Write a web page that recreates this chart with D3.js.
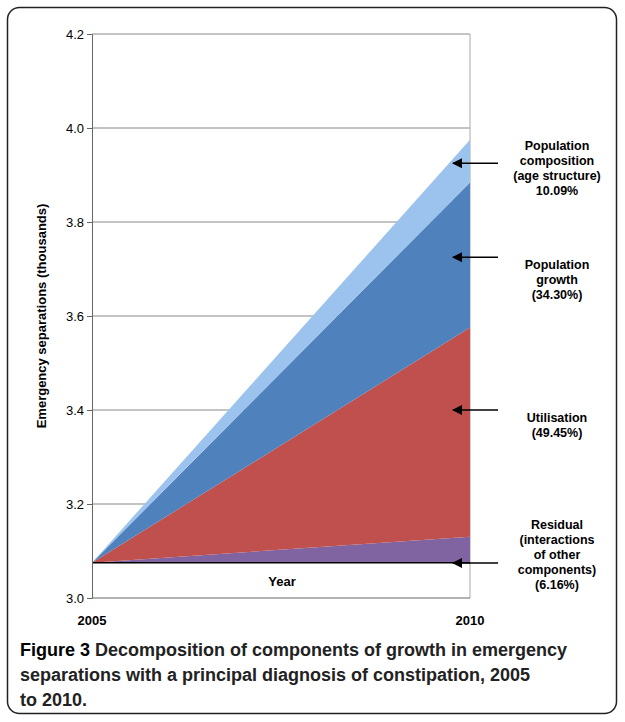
<!DOCTYPE html>
<html><head><meta charset="utf-8">
<script src="https://cdn.jsdelivr.net/npm/d3@7"></script>
<style>
body{margin:0;background:#fff;font-family:"Liberation Sans",Arial,sans-serif;}
</style></head>
<body><div id="chart"></div>
<script>
"use strict";

var years = [2005, 2010];
var base = 3.075;
var seriesNames = ["Residual", "Utilisation", "Population growth", "Population composition"];
var increments = [0.0554, 0.445, 0.3087, 0.0908]; // added by 2010
var colors = ["#8064A2", "#C0504D", "#4F81BD", "#9CC3EE"];
var yTicks = [3.0, 3.2, 3.4, 3.6, 3.8, 4.0, 4.2];
var labels = [
  ["Residual", "(interactions", "of other", "components)", "(6.16%)"],
  ["Utilisation", "(49.45%)"],
  ["Population", "growth", "(34.30%)"],
  ["Population", "composition", "(age structure)", "10.09%"]
];
var arrowY = [3.0745, 3.4, 3.725, 3.925];

var W = 625, H = 722;
var svg = d3.select("#chart").append("svg").attr("width", W).attr("height", H);

svg.append("rect").attr("x", 7.5).attr("y", 7.5).attr("width", 609).attr("height", 706)
  .attr("rx", 12).attr("fill", "#fff").attr("stroke", "#222").attr("stroke-width", 1.5);

var x = d3.scaleLinear().domain(years).range([92, 470]);
var y = d3.scaleLinear().domain([3.0, 4.2]).range([598, 34]);

// gridlines
svg.append("g").selectAll("line").data(yTicks.slice(1)).join("line")
  .attr("x1", 92).attr("x2", 470).attr("y1", d => y(d)).attr("y2", d => y(d))
  .attr("stroke", "#888").attr("stroke-width", 1);
svg.append("line").attr("x1", 470).attr("x2", 470).attr("y1", y(4.2)).attr("y2", y(3.0))
  .attr("stroke", "#aaa");

// stacked areas
var cum = base;
var tops = increments.map(function (inc) { cum += inc; return cum; });
var area = d3.area().x(d => x(d.x)).y0(d => y(d.y0)).y1(d => y(d.y1));
tops.forEach(function (t, i) {
  var prev = i === 0 ? base : tops[i - 1];
  svg.append("path")
    .datum([{x: 2005, y0: base, y1: base}, {x: 2010, y0: prev, y1: t}])
    .attr("fill", colors[i]).attr("d", area);
});
svg.append("line").attr("x1", x(2005)).attr("x2", x(2010)).attr("y1", y(base)).attr("y2", y(base))
  .attr("stroke", "#000").attr("stroke-width", 1.5);

// axes
var yAxis = d3.axisLeft(y).tickValues(yTicks).tickFormat(d3.format(".1f")).tickSize(5);
svg.append("g").attr("transform", "translate(92,0)").call(yAxis)
  .call(g => g.selectAll("text").attr("font-size", 13).attr("fill", "#000"))
  .call(g => g.selectAll("line,path").attr("stroke", "#666"));
svg.append("line").attr("x1", 92).attr("x2", 470).attr("y1", y(3.0)).attr("y2", y(3.0)).attr("stroke", "#666");

svg.selectAll(".xl").data(years).join("text")
  .attr("x", d => x(d)).attr("y", 625).attr("text-anchor", "middle")
  .attr("font-size", 13).attr("font-weight", "bold").text(d => d);
svg.append("text").attr("x", 282).attr("y", 586).attr("text-anchor", "middle")
  .attr("font-size", 13).attr("font-weight", "bold").text("Year");
svg.append("text").attr("transform", "translate(46," + y(3.6) + ") rotate(-90)")
  .attr("text-anchor", "middle").attr("font-size", 13).attr("font-weight", "bold")
  .text("Emergency separations (thousands)");

// arrows and labels
var defs = svg.append("defs");
defs.append("marker").attr("id", "ah").attr("viewBox", "0 0 10 10").attr("refX", 9).attr("refY", 5)
  .attr("markerWidth", 7).attr("markerHeight", 7).attr("orient", "auto")
  .append("path").attr("d", "M0,0L10,5L0,10z").attr("fill", "#000");
var labelY = [555, 425, 280, 168];
labels.forEach(function (lines, i) {
  svg.append("line").attr("x1", 498).attr("x2", 453)
    .attr("y1", y(arrowY[i])).attr("y2", y(arrowY[i]))
    .attr("stroke", "#000").attr("stroke-width", 1.5).attr("marker-end", "url(#ah)");
  var t = svg.append("text").attr("x", 557).attr("text-anchor", "middle")
    .attr("font-size", 12.5).attr("font-weight", "bold");
  var y0 = labelY[i] - (lines.length - 1) * 15 / 2;
  lines.forEach(function (l, j) {
    t.append("tspan").attr("x", 557).attr("y", y0 + j * 15 + 4).text(l);
  });
});

// caption
var cap = svg.append("text").attr("font-size", 18).attr("font-weight", "bold").attr("fill", "#222");
[["Figure 3", " Decomposition of components of growth in emergency"],
 ["", "separations with a principal diagnosis of constipation, 2005"],
 ["", "to 2010."]].forEach(function (l, j) {
  var ts = cap.append("tspan").attr("x", 20).attr("y", 656 + j * 25);
  if (l[0]) ts.append("tspan").attr("fill", "#000").text(l[0]);
  ts.append("tspan").text(l[1]);
});
</script></body></html>
